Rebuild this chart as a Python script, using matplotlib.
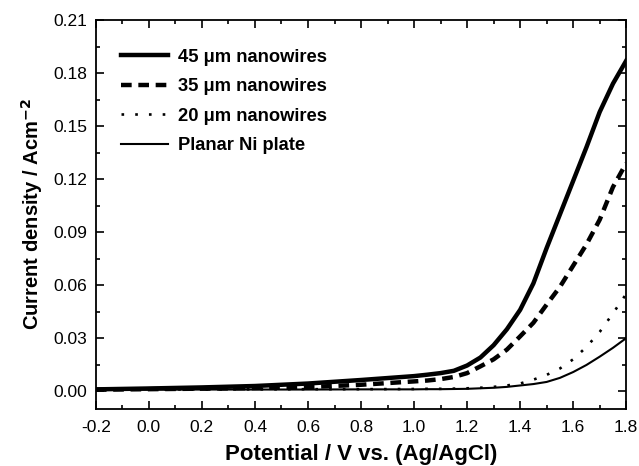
import matplotlib
matplotlib.use("Agg")
import matplotlib.pyplot as plt
from matplotlib.ticker import MultipleLocator

plt.rcParams['font.family'] = ['Liberation Sans', 'DejaVu Sans']

# potential grid (V vs Ag/AgCl)
potential = [-0.2, 0.0, 0.2, 0.4, 0.6, 0.8, 1.0, 1.05, 1.1, 1.15, 1.2, 1.25,
             1.3, 1.35, 1.4, 1.45, 1.5, 1.55, 1.6, 1.65, 1.7, 1.75, 1.8]

# current density (A cm^-2)
nw_45 = [0.0010, 0.0015, 0.0021, 0.0029, 0.0043, 0.0063, 0.0085, 0.0093, 0.0102,
         0.0115, 0.0145, 0.0190, 0.0260, 0.0350, 0.0460, 0.0610, 0.0810, 0.1000,
         0.1190, 0.1380, 0.1580, 0.1740, 0.1870]
nw_35 = [0.0008, 0.0011, 0.0014, 0.0017, 0.0023, 0.0036, 0.0055, 0.0060, 0.0068,
         0.0080, 0.0102, 0.0140, 0.0180, 0.0235, 0.0310, 0.0387, 0.0490, 0.0590,
         0.0710, 0.0830, 0.0970, 0.1155, 0.1290]
nw_20 = [0.0008, 0.0009, 0.0010, 0.0010, 0.0011, 0.0011, 0.0012, 0.0013, 0.0013,
         0.0014, 0.0016, 0.0019, 0.0024, 0.0032, 0.0043, 0.0065, 0.0092, 0.0128,
         0.0180, 0.0250, 0.0335, 0.0440, 0.0550]
planar = [0.0008, 0.0008, 0.0009, 0.0009, 0.0009, 0.0010, 0.0010, 0.0011, 0.0011,
          0.0012, 0.0013, 0.0016, 0.0019, 0.0024, 0.0032, 0.0040, 0.0052, 0.0075,
          0.0108, 0.0148, 0.0195, 0.0245, 0.0300]

fig = plt.figure(figsize=(6.39, 4.66), dpi=100)
ax = fig.add_axes([0.150, 0.122, 0.830, 0.835])

ax.plot(potential, nw_45, color='black', lw=3.2, label='45 \u03bcm nanowires')
ax.plot(potential, nw_35, color='black', lw=3.2, linestyle=(0, (2.4, 1.5)),
        label='35 \u03bcm nanowires')
ax.plot(potential, nw_20, color='black', lw=1.9, linestyle=(0, (1, 4.2)),
        label='20 \u03bcm nanowires')
ax.plot(potential, planar, color='black', lw=1.5, label='Planar Ni plate')

ax.set_xlim(-0.2, 1.8)
ax.set_ylim(-0.0102, 0.21)
ax.xaxis.set_major_locator(MultipleLocator(0.2))
ax.xaxis.set_minor_locator(MultipleLocator(0.1))
ax.yaxis.set_major_locator(MultipleLocator(0.03))
ax.yaxis.set_minor_locator(MultipleLocator(0.015))
ax.xaxis.set_major_formatter(plt.FuncFormatter(lambda v, p: f"{v:.1f}"))
ax.yaxis.set_major_formatter(plt.FuncFormatter(lambda v, p: f"{v:.2f}"))

ax.tick_params(which='both', direction='in', top=True, right=True,
               labelsize=12.5, width=1.2)
ax.tick_params(which='major', length=6)
ax.tick_params(axis='x', which='major', pad=8)
ax.tick_params(axis='y', which='major', pad=6)
ax.tick_params(which='minor', length=3)
for s in ax.spines.values():
    s.set_linewidth(1.3)

ax.set_xlabel('Potential / V vs. (Ag/AgCl)', fontsize=16, fontweight='bold',
              labelpad=6)
ax.set_ylabel('Current density / Acm$^{\\mathbf{-2}}$', fontsize=14.5,
              fontweight='bold', labelpad=6)

leg = ax.legend(loc='upper left', frameon=False, handlelength=2.6,
                handletextpad=0.5, labelspacing=0.68, borderaxespad=0.0,
                bbox_to_anchor=(0.033, 0.945),
                prop={'size': 13.2, 'weight': 'bold'})

fig.savefig('out.png', dpi=100)
